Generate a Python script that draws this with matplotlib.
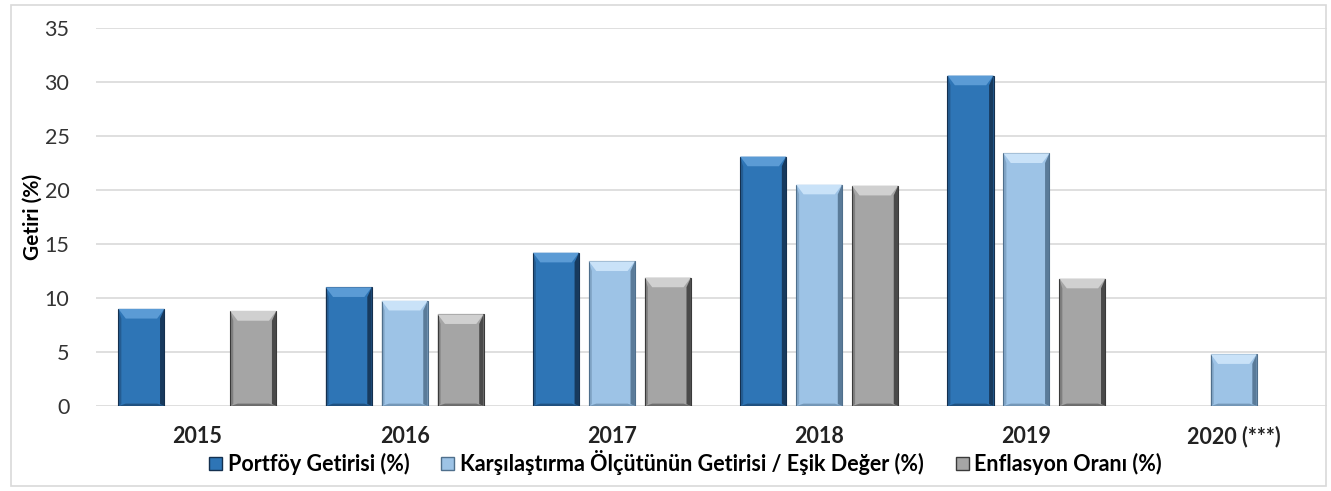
import matplotlib
matplotlib.use("Agg")
import matplotlib.pyplot as plt
import numpy as np
from matplotlib.patches import Polygon, Rectangle

years = ["2015", "2016", "2017", "2018", "2019", "2020 (***)"]
series_names = ["Portföy Getirisi (%)",
                "Karşılaştırma Ölçütünün Getirisi / Eşik Değer (%)",
                "Enflasyon Oranı (%)"]
portfoy = [9.0, 11.0, 14.2, 23.1, 30.6, np.nan]
karsilastirma = [np.nan, 9.75, 13.4, 20.5, 23.4, 4.8]
enflasyon = [8.8, 8.5, 11.9, 20.4, 11.8, np.nan]

colors = ["#2E75B6", "#9DC3E6", "#A5A5A5"]
light = ["#5B9BD5", "#C9E2F8", "#D0D0D0"]
dark = ["#14304F", "#4F6F8C", "#3A3A3A"]

plt.rcParams['font.family'] = ['Lato', 'DejaVu Sans']

fig = plt.figure(figsize=(13.31, 4.91), dpi=100)
ax = fig.add_axes([0.072, 0.173, 0.925, 0.77])

x = np.arange(len(years))
width = 0.222
offs = [-0.27, 0.0, 0.27]
data = [portfoy, karsilastirma, enflasyon]

for i, (vals, off) in enumerate(zip(data, offs)):
    v = np.array(vals, dtype=float)
    bars = ax.bar(x + off, np.nan_to_num(v), width, color=colors[i],
                  edgecolor=dark[i], linewidth=0.8, zorder=3)
    for b, val in zip(bars, v):
        if np.isnan(val) or val <= 0:
            b.set_visible(False)
            continue
        x0, y0 = b.get_x(), b.get_y()
        w, h = b.get_width(), b.get_height()
        bx = w * 0.16
        by = 0.9
        ax.add_patch(Rectangle((x0 + w * 0.05, y0 - 0.35), w * 0.95, 0.35,
                               facecolor='#BBBBBB', edgecolor='none', alpha=0.5, zorder=2))
        ax.add_patch(Polygon([[x0, y0 + h], [x0 + w, y0 + h],
                              [x0 + w - bx, y0 + h - by], [x0 + bx, y0 + h - by]],
                             closed=True, facecolor=light[i], edgecolor='none', zorder=4))
        ax.add_patch(Polygon([[x0 + w, y0 + h], [x0 + w, y0],
                              [x0 + w - bx * 0.6, y0 + by * 0.2], [x0 + w - bx * 0.6, y0 + h - by]],
                             closed=True, facecolor=dark[i], edgecolor='none', alpha=0.85, zorder=4))
        ax.add_patch(Polygon([[x0, y0 + h], [x0, y0],
                              [x0 + bx * 0.4, y0 + by * 0.2], [x0 + bx * 0.4, y0 + h - by]],
                             closed=True, facecolor=dark[i], edgecolor='none', alpha=0.35, zorder=4))
        ax.add_patch(Polygon([[x0, y0], [x0 + w, y0],
                              [x0 + w - bx, y0 + by * 0.25], [x0 + bx, y0 + by * 0.25]],
                             closed=True, facecolor=dark[i], edgecolor='none', alpha=0.5, zorder=4))

ax.set_ylim(0, 35)
ax.set_yticks(range(0, 36, 5))
ax.set_xlim(-0.49, 5.45)
ax.set_xticks(x)
ax.set_xticklabels(years, fontsize=15.5, fontweight='bold', color='#222222')
ax.tick_params(axis='y', labelsize=15.5, colors='#333333', length=0, pad=19)
ax.tick_params(axis='x', length=0, pad=14)
ax.grid(axis='y', color='#D9D9D9', linewidth=1.2, zorder=0)
ax.set_axisbelow(True)
for s in ax.spines.values():
    s.set_visible(False)
ax.set_ylabel("Getiri (%)", fontsize=15, fontweight='bold')
ax.yaxis.set_label_coords(-0.043, 0.5)

handles = [Rectangle((0, 0), 1, 1, facecolor=colors[i], edgecolor=dark[i]) for i in range(3)]
leg = fig.legend(handles, series_names, loc='center', bbox_to_anchor=(0.515, 0.058),
                 ncol=3, frameon=False, prop={'size': 15.5, 'weight': 'bold'},
                 handlelength=0.6, handleheight=0.6, handletextpad=0.25, columnspacing=1.5)

fig.patches.append(Rectangle((0.008, 0.01), 0.988, 0.98, transform=fig.transFigure,
                             fill=False, edgecolor='#D9D9D9', linewidth=1.2))

fig.savefig("out.png", dpi=100)
